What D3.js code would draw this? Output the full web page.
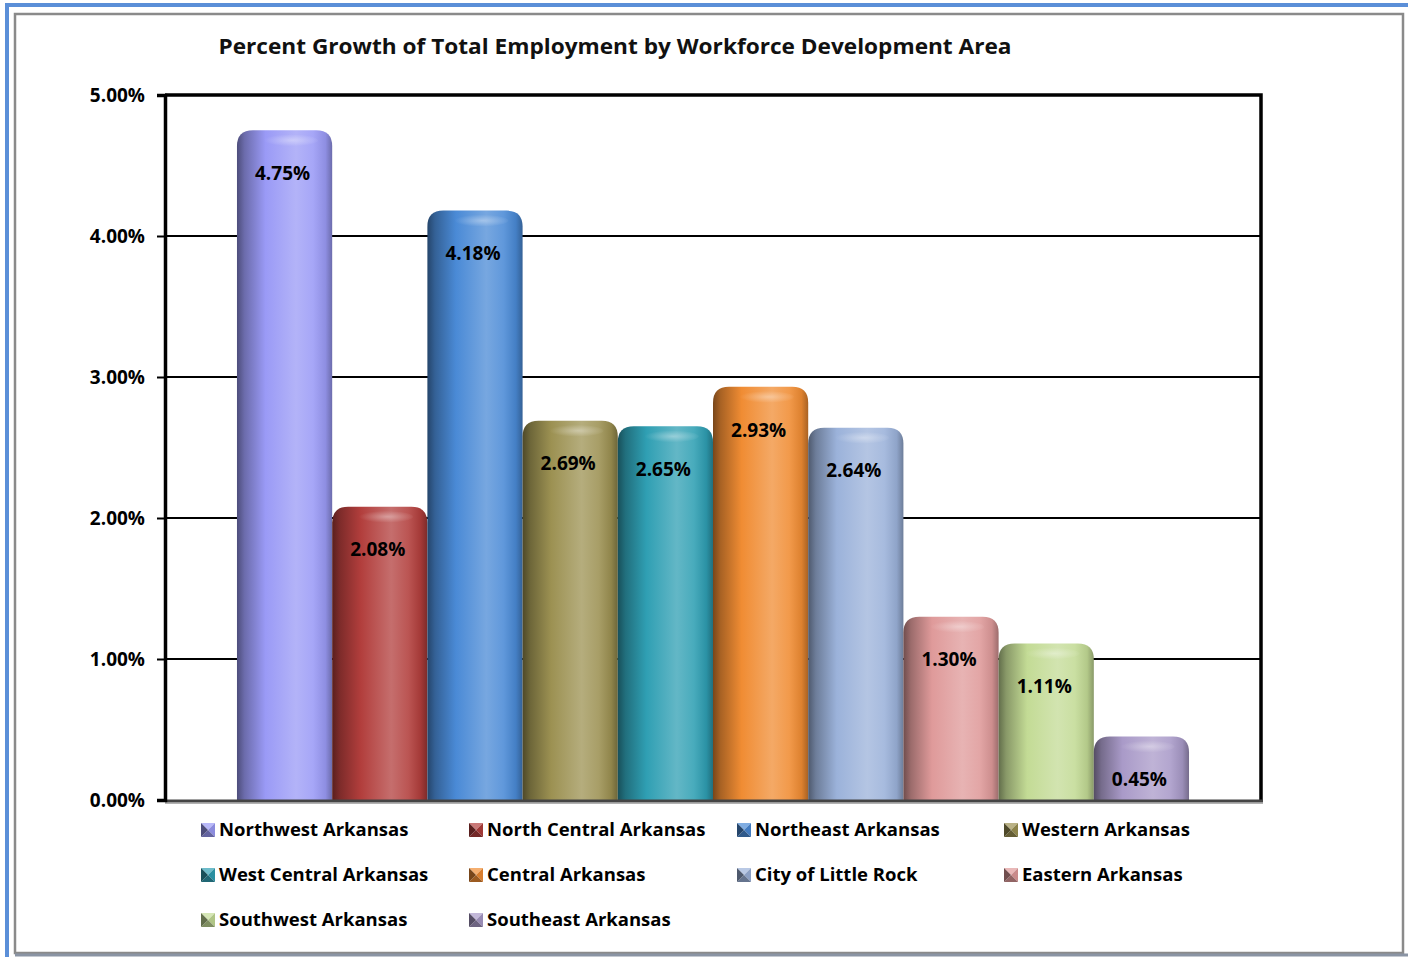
<!DOCTYPE html>
<html><head><meta charset="utf-8">
<script src="https://cdn.jsdelivr.net/npm/d3@7"></script>
<style>body{margin:0;background:#fff;}svg{display:block;}</style>
</head><body>
<svg id="c" width="1408" height="957"></svg>
<script>
const categories = ["Northwest Arkansas","North Central Arkansas","Northeast Arkansas","Western Arkansas","West Central Arkansas","Central Arkansas","City of Little Rock","Eastern Arkansas","Southwest Arkansas","Southeast Arkansas"];
const values = [4.75, 2.08, 4.18, 2.69, 2.65, 2.93, 2.64, 1.30, 1.11, 0.45];
const colors = ["#9a9af6","#b23e3c","#4a8ad6","#9c9152","#2f9fb3","#f08c33","#9bb2da","#df9a9a","#c3db95","#a99ac8"];
const yTicks = [0,1,2,3,4,5];
const title = "Percent Growth of Total Employment by Workforce Development Area";

const svg = d3.select("#c");
const FONT = "'Open Sans', sans-serif";

// frame
svg.append("rect").attr("x",15).attr("y",14).attr("width",1388).attr("height",939).attr("fill","#fff")
  .attr("stroke","#8a8a8a").attr("stroke-width",2.5);
svg.append("line").attr("x1",5).attr("x2",1408).attr("y1",5).attr("y2",5).attr("stroke","#5b8fd8").attr("stroke-width",4);
svg.append("line").attr("x1",7).attr("x2",7).attr("y1",3).attr("y2",957).attr("stroke","#5b8fd8").attr("stroke-width",4);
svg.append("line").attr("x1",15).attr("x2",1408).attr("y1",955).attr("y2",955).attr("stroke","#8a94a4").attr("stroke-width",3);

const m = {l:165, r:1261, t:95, b:800};
const x = d3.scaleBand().domain(categories).range([m.l,m.r]).paddingInner(0).paddingOuter(0.756);
const y = d3.scaleLinear().domain([0,5]).range([m.b,m.t]);

// title
svg.append("text").attr("x",615).attr("y",54).attr("text-anchor","middle")
  .attr("font-family",FONT).attr("font-weight","bold").attr("font-size",22).attr("fill","#111")
  .attr("textLength",793).attr("lengthAdjust","spacingAndGlyphs").text(title);

const defs = svg.append("defs");
colors.forEach((c,i)=>{
  const g = defs.append("linearGradient").attr("id","g"+i).attr("x1","0").attr("x2","1").attr("y1","0").attr("y2","0");
  const dk = d3.interpolateRgb(c,"#000");
  const lt = d3.interpolateRgb(c,"#fff");
  [[0,dk(0.5)],[0.08,dk(0.3)],[0.3,c],[0.62,lt(0.25)],[0.8,lt(0.12)],[0.93,dk(0.08)],[1,dk(0.3)]]
    .forEach(([o,col])=>g.append("stop").attr("offset",o).attr("stop-color",col));
  const h = defs.append("radialGradient").attr("id","h"+i).attr("cx","0.55").attr("cy","0.5").attr("r","0.5");
  h.append("stop").attr("offset",0).attr("stop-color","#fff").attr("stop-opacity",0.35);
  h.append("stop").attr("offset",1).attr("stop-color","#fff").attr("stop-opacity",0);
});

// gridlines
const grid = svg.append("g");
yTicks.filter(t=>t>0 && t<5).forEach(t=>{
  grid.append("line").attr("x1",m.l).attr("x2",m.r).attr("y1",y(t)).attr("y2",y(t)).attr("stroke","#000").attr("stroke-width",2);
});

// bars
const bw = x.bandwidth();
const r = 16;
const bars = svg.append("g");
categories.forEach((cat,i)=>{
  const x0 = x(cat), v = values[i], top = y(v), bot = y(0);
  const rr = Math.min(r, (bot-top));
  const p = d3.path();
  p.moveTo(x0, bot);
  p.lineTo(x0, top+rr);
  p.quadraticCurveTo(x0, top, x0+rr, top);
  p.lineTo(x0+bw-rr, top);
  p.quadraticCurveTo(x0+bw, top, x0+bw, top+rr);
  p.lineTo(x0+bw, bot);
  p.closePath();
  bars.append("path").attr("d",p.toString()).attr("fill",`url(#g${i})`);
  bars.append("ellipse").attr("cx",x0+bw*0.55).attr("cy",top+10).attr("rx",bw*0.3).attr("ry",6).attr("fill",`url(#h${i})`);
  bars.append("text").attr("x",x0+bw/2-2).attr("y",top+43).attr("dy","0.35em").attr("text-anchor","middle")
    .attr("font-family",FONT).attr("font-weight","bold").attr("font-size",19).attr("fill","#000")
    .text(v.toFixed(2)+"%");
});

// plot borders
svg.append("path").attr("d",`M${m.l},${m.t}H${m.r}V${m.b}`).attr("fill","none").attr("stroke","#000").attr("stroke-width",3.5);
svg.append("line").attr("x1",m.l).attr("x2",m.r+2).attr("y1",m.b+1).attr("y2",m.b+1).attr("stroke","#444").attr("stroke-width",3);
svg.append("line").attr("x1",m.l).attr("x2",m.r+2).attr("y1",m.b+3).attr("y2",m.b+3).attr("stroke","#999").attr("stroke-width",1.5);

// y axis
const ya = svg.append("g").attr("transform",`translate(${m.l},0)`)
  .call(d3.axisLeft(y).tickValues(yTicks).tickSize(8).tickPadding(12).tickFormat(d=>d.toFixed(2)+"%"));
ya.select(".domain").attr("stroke","#000").attr("stroke-width",3.5);
ya.selectAll(".tick line").attr("stroke","#000").attr("stroke-width",2);
ya.selectAll(".tick text").attr("font-family",FONT).attr("font-weight","bold").attr("font-size",19).attr("fill","#000").attr("dy","0.35em");

// legend
const cols=[201,469,737,1004], rows=[830,875,920];
const lg = svg.append("g");
categories.forEach((cat,i)=>{
  const cx = cols[i%4], cy = rows[Math.floor(i/4)];
  const s=14, x0=cx, y0=cy-7;
  const c = colors[i];
  const g = lg.append("g");
  const mid=[x0+s/2,y0+s/2];
  const tri=(pts,col)=>g.append("polygon").attr("points",pts.map(p=>p.join(",")).join(" ")).attr("fill",col);
  tri([[x0,y0],[x0+s,y0],mid], d3.interpolateRgb(c,"#fff")(0.3));
  tri([[x0+s,y0],[x0+s,y0+s],mid], d3.interpolateRgb(c,"#000")(0.1));
  tri([[x0,y0+s],[x0+s,y0+s],mid], d3.interpolateRgb(c,"#000")(0.35));
  tri([[x0,y0],[x0,y0+s],mid], d3.interpolateRgb(c,"#000")(0.5));
  g.append("text").attr("x",x0+s+4).attr("y",cy).attr("dy","0.35em")
    .attr("font-family",FONT).attr("font-weight","bold").attr("font-size",18.5).attr("fill","#000").text(cat);
});
</script>
</body></html>
